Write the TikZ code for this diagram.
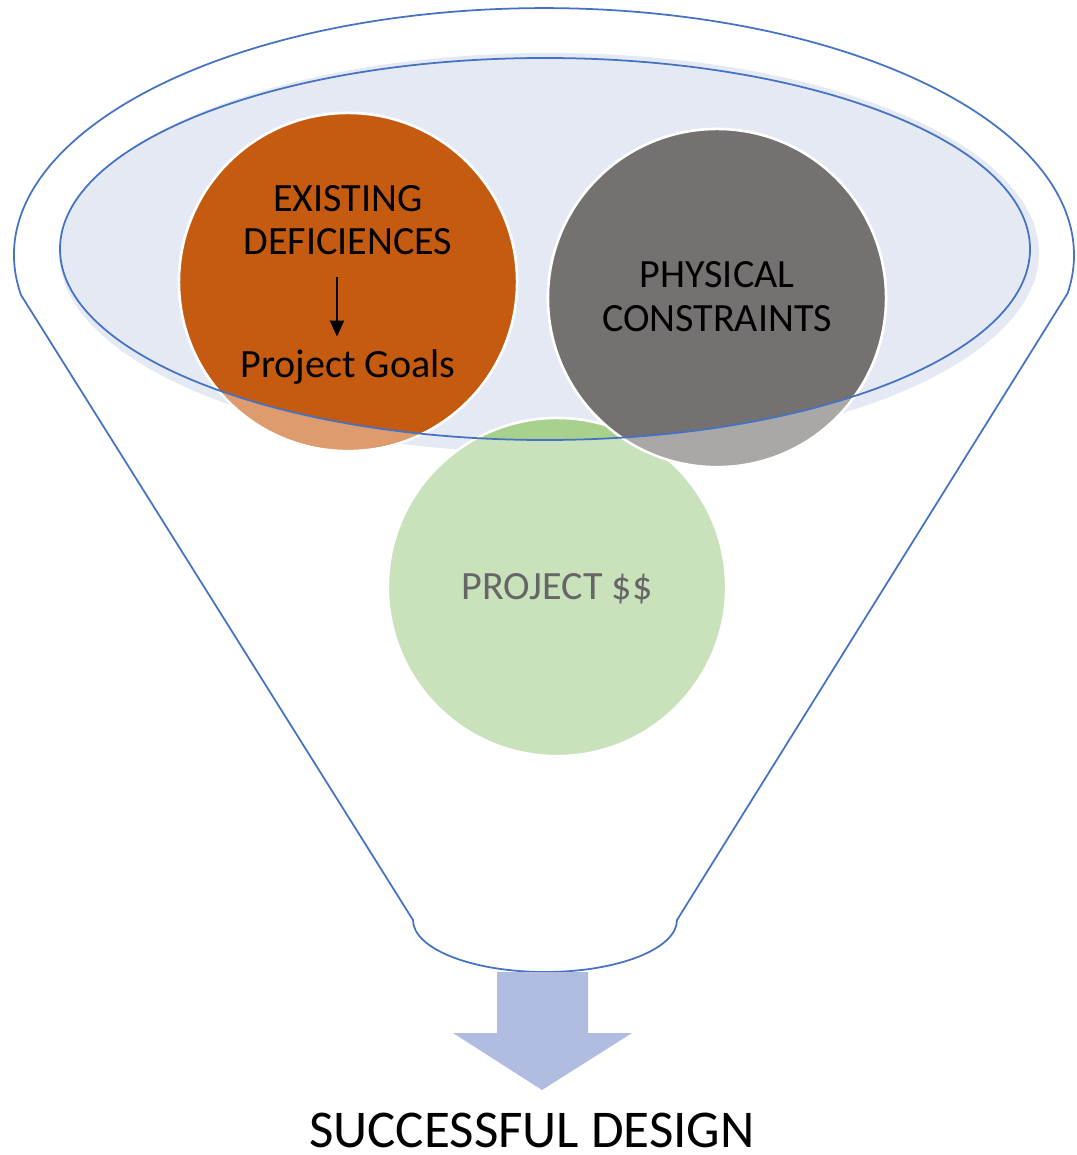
\documentclass[tikz,border=0pt]{standalone}
\usepackage{fontspec}
\setmainfont{Carlito}
\usetikzlibrary{arrows.meta}

\definecolor{funnelblue}{HTML}{4472C4}
\definecolor{bowlfill}{HTML}{E4E9F3}
\definecolor{defdark}{HTML}{C55A11}
\definecolor{deflight}{HTML}{DE9C6E}
\definecolor{condark}{HTML}{767171}
\definecolor{conlight}{HTML}{AAA8A7}
\definecolor{cashdark}{HTML}{A9D18E}
\definecolor{cashlight}{HTML}{C9E2BB}
\definecolor{cashtext}{HTML}{666666}
\definecolor{outarrow}{HTML}{B0BDE0}

\tikzset{
  ball/.style={circle, draw=white, line width=0.7pt, minimum size=3.38cm, inner sep=0pt},
  lbl/.style={anchor=base, inner sep=0pt, font=\fontsize{11.4}{13}\selectfont},
}

\begin{document}
\begin{tikzpicture}[x=0.01cm, y=-0.01cm]
        \useasboundingbox (0,0) rectangle (1076,1155);

        % bowl
        \fill[bowlfill] (549,253) ellipse [x radius=490, y radius=200];

        \node[ball, fill=cashlight] (cashball) at (557,587) {};
        \node[ball, fill=deflight] (defball) at (348,282) {};
        \node[ball, fill=conlight] (conball) at (717,298) {};

        % darker inside the rim
        \begin{scope}
            \clip (545,249) ellipse [x radius=485, y radius=191];
            \filldraw[draw=white, line width=0.7pt, fill=cashdark] (cashball.center) circle [radius=169];
            \filldraw[draw=white, line width=0.7pt, fill=defdark] (defball.center) circle [radius=169];
            \filldraw[draw=white, line width=0.7pt, fill=condark] (conball.center) circle [radius=169];
        \end{scope}

        \draw[funnelblue, line width=0.5pt] (545,249) ellipse [x radius=485, y radius=191];
        \draw[funnelblue, line width=0.5pt]
            (21,295) arc [start angle=170.7, end angle=368.9, x radius=530, y radius=247]
            -- (677,920) arc [start angle=0, end angle=180, x radius=132, y radius=52]
            -- cycle;
        \coordinate (spout) at (545,972);

        \node[lbl] (exist) at (348,212) {EXISTING};
        \node[lbl] (defic) at (348,255) {DEFICIENCES};
        \node[lbl] (goals) at (348,377) {Project Goals};
        \draw[-{Triangle[width=4pt,length=4.5pt]}, line width=0.5pt, shorten <=0.21cm, shorten >=0.12cm]
            ([xshift=-0.11cm]defic.south) -- ([xshift=-0.11cm]goals.north);

        \node[lbl] (phys) at (717,288) {PHYSICAL};
        \node[lbl] (constr) at (717,332) {CONSTRAINTS};

        \node[lbl, text=cashtext] (cash) at (557,599) {PROJECT \$\$};

        \fill[outarrow] (spout -| 497,0) -- (spout -| 588,0) -- (588,1033) -- (632,1033)
            -- (542,1090) -- (453,1033) -- (497,1033) -- cycle;
        \node[anchor=base, inner sep=0pt, font=\fontsize{15.1}{18}\selectfont] (result) at (532,1147) {SUCCESSFUL DESIGN};
    \end{tikzpicture}
\end{document}
